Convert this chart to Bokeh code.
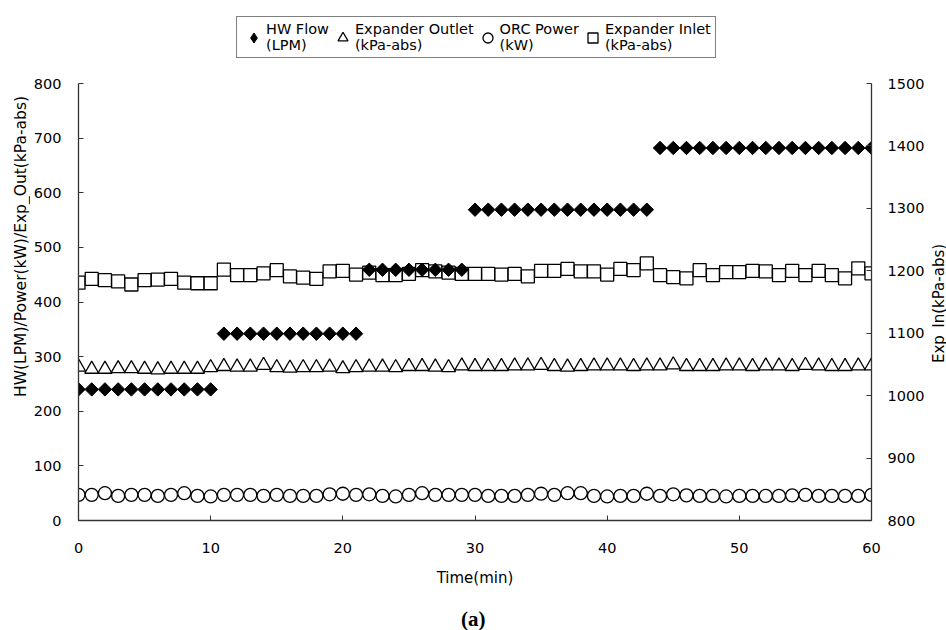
import numpy as np
from bokeh.plotting import figure
from bokeh.layouts import row, column
from bokeh.models import (Range1d, LinearAxis, Legend, LegendItem,
                          SingleIntervalTicker, ColumnDataSource)
from bokeh.core.properties import value
from bokeh.embed import file_html
from bokeh.resources import INLINE

# ---------------- data ----------------
time_min = list(range(61))

hw_flow = [240] * 11 + [342] * 11 + [459] * 8 + [569] * 14 + [682] * 17

exp_outlet = [281, 277, 277, 278, 278, 277, 276, 277, 277, 277,
              280, 282, 281, 281, 284, 280, 279, 280, 280, 281,
              278, 280, 281, 281, 280, 282, 282, 281, 280, 283,
              282, 282, 282, 283, 283, 284, 282, 281, 282, 283,
              283, 283, 282, 283, 283, 285, 282, 282, 282, 283,
              283, 282, 283, 283, 282, 284, 283, 282, 282, 283, 283]

orc_power = [47, 47, 50, 45, 47, 47, 45, 47, 50, 45,
             44, 47, 47, 47, 45, 47, 45, 45, 45, 48,
             49, 47, 48, 45, 44, 47, 50, 47, 47, 47,
             47, 45, 45, 45, 47, 49, 47, 50, 50, 45,
             44, 45, 45, 49, 45, 48, 46, 45, 45, 44,
             45, 45, 45, 45, 46, 47, 45, 45, 45, 45, 47]

exp_inlet = [1181, 1187, 1185, 1183, 1178, 1185, 1186, 1187, 1181, 1180,
             1180, 1202, 1193, 1193, 1196, 1201, 1191, 1189, 1187, 1199,
             1200, 1194, 1197, 1193, 1193, 1195, 1201, 1199, 1197, 1195,
             1195, 1195, 1194, 1195, 1191, 1200, 1200, 1203, 1199, 1199,
             1194, 1203, 1201, 1212, 1193, 1190, 1188, 1201, 1193, 1198,
             1198, 1200, 1199, 1193, 1200, 1193, 1200, 1193, 1188, 1204, 1196]

legend_labels = ["HW Flow\n(LPM)", "Expander Outlet\n(kPa-abs)",
                 "ORC Power\n(kW)", "Expander Inlet\n(kPa-abs)"]

left_title = "HW(LPM)/Power(kW)/Exp_Out(kPa-abs)"
right_title = "Exp_In(kPa-abs)"
x_title = "Time(min)"
caption = "(a)"

left_axis_span = (0, 800)
right_axis_span = (800, 1500)

FONT = "DejaVu Sans"

# ---------------- page geometry (pixels) ----------------
W, H = 946, 630
LEFT_STRIP, RIGHT_STRIP, BOTTOM_STRIP = 30, 18, 38
MAIN_W = W - LEFT_STRIP - RIGHT_STRIP
MAIN_H = H - BOTTOM_STRIP
FRAME_LEFT, FRAME_RIGHT = 77, 871
TOP, FRAME_BOTTOM, AXIS_TOP = 5, 520, 83

left_end = left_axis_span[1] * (FRAME_BOTTOM - TOP) / (FRAME_BOTTOM - AXIS_TOP)
right_end = right_axis_span[0] + (right_axis_span[1] - right_axis_span[0]) * \
    (FRAME_BOTTOM - TOP) / (FRAME_BOTTOM - AXIS_TOP)

# ---------------- main figure ----------------
p = figure(width=MAIN_W, height=MAIN_H, output_backend="svg",
           toolbar_location=None,
           x_range=Range1d(0, 60), y_range=Range1d(0, left_end),
           min_border_left=FRAME_LEFT - LEFT_STRIP,
           min_border_right=LEFT_STRIP + MAIN_W - FRAME_RIGHT,
           min_border_top=TOP, min_border_bottom=MAIN_H - FRAME_BOTTOM)
p.extra_y_ranges = {"right": Range1d(right_axis_span[0], right_end)}
p.grid.visible = False
p.outline_line_color = None
p.background_fill_color = "white"
p.border_fill_color = "white"

src = ColumnDataSource(dict(t=time_min, hw=hw_flow, out=exp_outlet,
                            pw=orc_power, inl=exp_inlet))

r_in = p.scatter("t", "inl", source=src, y_range_name="right", marker="square",
                 size=13, fill_color="white", line_color="black", line_width=1.3)
# small diamonds (fully hidden under the big ones) give the legend its swatch
r_hw_key = p.scatter("t", "hw", source=src, marker="diamond", size=8,
                     fill_color="black", line_color="black", line_width=1)
r_hw = p.scatter("t", "hw", source=src, marker="square", angle=np.pi / 4,
                 size=9.5, fill_color="black", line_color="black", line_width=1)
r_out = p.scatter("t", "out", source=src, marker="triangle", size=14,
                  fill_color="white", line_color="black", line_width=1.3)
r_pw = p.scatter("t", "pw", source=src, marker="circle", size=13,
                 fill_color="white", line_color="black", line_width=1.3)

def style_axis(ax):
    ax.axis_line_color = "#333333"
    ax.axis_line_width = 1.3
    ax.major_tick_line_color = "#333333"
    ax.major_tick_in = 5
    ax.major_tick_out = 0
    ax.minor_tick_line_color = None
    ax.major_label_text_font = FONT
    ax.major_label_text_font_size = "14.5px"
    ax.major_label_text_color = "black"
    ax.axis_label_text_font = FONT
    ax.axis_label_text_font_size = "15px"
    ax.axis_label_text_font_style = "normal"
    ax.axis_label_text_color = "black"

xa = p.xaxis[0]
xa.ticker = SingleIntervalTicker(interval=10)
xa.axis_label = x_title
style_axis(xa)
xa.major_label_standoff = 18
xa.axis_label_standoff = 13

ya = p.yaxis[0]
ya.ticker = SingleIntervalTicker(interval=100)
ya.bounds = left_axis_span
style_axis(ya)
ya.major_label_standoff = 13

yr = LinearAxis(y_range_name="right", ticker=SingleIntervalTicker(interval=100),
                bounds=right_axis_span)
style_axis(yr)
yr.major_label_standoff = 12
p.add_layout(yr, "right")

legend = Legend(items=[LegendItem(label=legend_labels[0], renderers=[r_hw_key]),
                       LegendItem(label=legend_labels[1], renderers=[r_out]),
                       LegendItem(label=legend_labels[2], renderers=[r_pw]),
                       LegendItem(label=legend_labels[3], renderers=[r_in])],
                orientation="horizontal", location=(158, 462),
                label_text_font=FONT, label_text_font_size="14.5px",
                label_text_color="black", label_text_line_height=1.4,
                glyph_width=25, glyph_height=27, label_standoff=0, spacing=1,
                padding=4, margin=0, border_line_color="black",
                border_line_width=1, background_fill_alpha=1.0)
p.add_layout(legend, "center")

# ---------------- text strips around the main figure ----------------
def strip(w, h):
    s = figure(width=w, height=h, output_backend="svg", toolbar_location=None,
               x_range=Range1d(0, w), y_range=Range1d(0, h),
               x_axis_type=None, y_axis_type=None, min_border=0)
    s.grid.visible = False
    s.outline_line_color = None
    s.background_fill_color = "white"
    s.border_fill_color = "white"
    return s

p_left = strip(LEFT_STRIP, H)
p_left.text(x=[20], y=[H - 246], text=[left_title], angle=np.pi / 2,
            text_align="center", text_baseline="middle",
            text_font=value(FONT), text_font_size="15.5px", text_color="black")

p_right = strip(RIGHT_STRIP, H)
p_right.text(x=[10], y=[H - 303], text=[right_title], angle=np.pi / 2,
             text_align="center", text_baseline="middle",
             text_font=value(FONT), text_font_size="15px", text_color="black")

p_bot = strip(MAIN_W, BOTTOM_STRIP)
p_bot.text(x=[477 - LEFT_STRIP], y=[H - 618], text=[caption],
           text_align="center", text_baseline="middle",
           text_font=value("Liberation Serif"), text_font_size="21px",
           text_font_style="bold", text_color="black")

layout = row(p_left, column(p, p_bot, spacing=0), p_right, spacing=0)

open("out.html", "w").write(file_html(layout, INLINE))
